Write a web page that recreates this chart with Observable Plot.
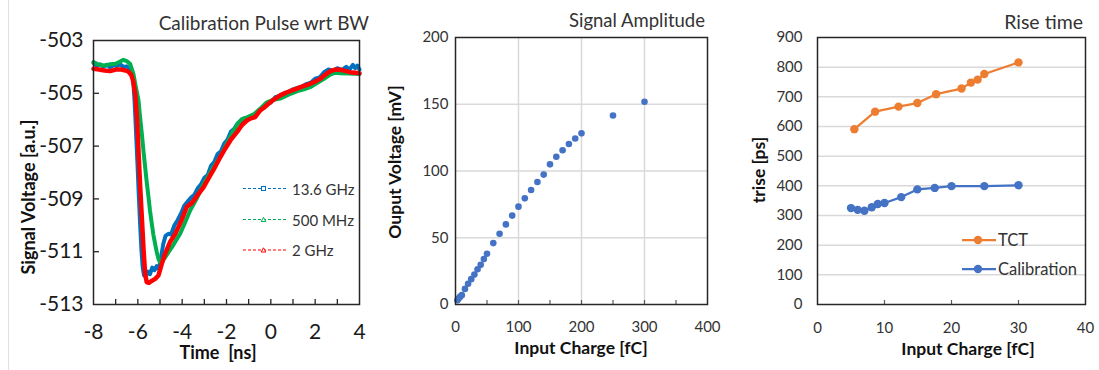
<!DOCTYPE html>
<html><head><meta charset="utf-8">
<script src="https://cdn.jsdelivr.net/npm/d3@7"></script>
<script src="https://cdn.jsdelivr.net/npm/@observablehq/plot@0.6"></script>
<style>
body{margin:0;background:#fff;}
#wrap{position:relative;width:1099px;height:370px;overflow:hidden;font-family:Lato,"Open Sans",sans-serif;}
.abs{position:absolute;white-space:pre;line-height:1;}
.title{color:#333;font-weight:normal;}
.lab{font-weight:bold;color:#111;}
.rot{transform:translate(-50%,-50%) rotate(-90deg);}
.ctr{transform:translate(-50%,-50%);}
.rgt{transform:translate(-100%,-50%);}
.lft{transform:translate(0,-50%);}
</style></head><body><div id="wrap"></div>
<script>
// ---------- Panel 1: Calibration Pulse wrt BW ----------
const t136 = [-8.0,-7.85,-7.7,-7.55,-7.4,-7.25,-7.1,-6.95,-6.8,-6.65,-6.5,-6.38,-6.28,-6.2,-6.14,-6.08,-6.02,-5.96,-5.9,-5.84,-5.78,-5.72,-5.64,-5.55,-5.45,-5.35,-5.25,-5.15,-5.05,-4.95,-4.85,-4.75,-4.62,-4.5,-4.35,-4.2,-4.05,-3.9,-3.75,-3.6,-3.45,-3.3,-3.15,-3.0,-2.85,-2.7,-2.55,-2.4,-2.25,-2.1,-1.95,-1.8,-1.65,-1.5,-1.35,-1.2,-1.05,-0.9,-0.75,-0.6,-0.45,-0.3,-0.15,0.0,0.2,0.4,0.6,0.8,1.0,1.2,1.4,1.6,1.8,2.0,2.2,2.4,2.6,2.8,3.0,3.2,3.4,3.55,3.7,3.8,3.9,4.0];
const v136 = [-503.85,-503.95,-503.9,-504.0,-503.92,-504.02,-503.93,-503.97,-503.9,-504.0,-503.98,-504.1,-504.2,-504.6,-505.4,-506.5,-507.6,-508.8,-509.9,-510.9,-511.6,-511.9,-511.95,-511.75,-511.85,-511.6,-511.7,-511.55,-511.65,-511.2,-510.7,-510.4,-510.32,-510.35,-510.0,-509.8,-509.55,-509.25,-509.1,-508.95,-508.85,-508.6,-508.45,-508.2,-508.1,-507.75,-507.6,-507.3,-507.2,-506.9,-506.75,-506.45,-506.35,-506.15,-506.05,-505.95,-505.95,-505.85,-505.9,-505.7,-505.6,-505.55,-505.4,-505.35,-505.15,-505.1,-505.0,-504.95,-504.85,-504.8,-504.75,-504.65,-504.6,-504.45,-504.4,-504.2,-504.1,-504.15,-504.05,-504.12,-504.0,-504.1,-503.92,-504.05,-503.95,-504.1];
const t500 = [-8.0,-7.75,-7.5,-7.25,-7.0,-6.8,-6.65,-6.5,-6.35,-6.2,-6.08,-5.97,-5.9,-5.82,-5.75,-5.67,-5.6,-5.52,-5.45,-5.37,-5.3,-5.22,-5.15,-5.07,-5.0,-4.9,-4.77,-4.6,-4.46,-4.3,-4.09,-3.85,-3.64,-3.35,-3.04,-2.7,-2.28,-1.95,-1.68,-1.5,-1.31,-1.05,-0.78,-0.5,-0.18,0.1,0.42,0.8,1.2,1.5,1.77,2.1,2.4,2.68,2.9,3.13,3.5,3.8,4.0];
const v500 = [-503.82,-503.92,-503.95,-503.9,-503.88,-503.8,-503.73,-503.78,-503.88,-504.26,-504.8,-505.27,-505.9,-506.53,-507.15,-507.8,-508.35,-508.93,-509.45,-509.94,-510.35,-510.7,-511.0,-511.27,-511.4,-511.35,-511.22,-511.0,-510.83,-510.6,-510.32,-509.85,-509.44,-509.0,-508.45,-507.95,-507.4,-506.85,-506.4,-506.15,-505.98,-505.9,-505.8,-505.6,-505.34,-505.25,-505.2,-505.05,-504.92,-504.85,-504.77,-504.6,-504.45,-504.29,-504.22,-504.24,-504.25,-504.26,-504.27];
const t2g = [-8.0,-7.75,-7.5,-7.25,-7.0,-6.75,-6.5,-6.4,-6.3,-6.22,-6.12,-6.04,-5.97,-5.9,-5.82,-5.74,-5.67,-5.6,-5.5,-5.4,-5.22,-5.07,-4.92,-4.77,-4.54,-4.31,-4.05,-3.79,-3.56,-3.3,-3.04,-2.8,-2.59,-2.3,-2.06,-1.8,-1.53,-1.3,-1.08,-0.9,-0.71,-0.48,-0.25,-0.03,0.2,0.42,0.7,1.02,1.4,1.77,2.0,2.23,2.45,2.68,2.9,3.13,3.35,3.58,3.8,4.0];
const v2g = [-504.07,-504.1,-504.14,-504.16,-504.1,-504.1,-504.15,-504.2,-504.3,-504.5,-505.0,-505.9,-507.17,-508.43,-509.69,-510.95,-511.84,-512.15,-512.18,-512.12,-512.03,-511.9,-511.46,-511.08,-510.62,-510.32,-509.85,-509.3,-509.15,-508.85,-508.56,-508.2,-507.9,-507.45,-507.1,-506.75,-506.47,-506.2,-506.03,-505.95,-505.9,-505.65,-505.5,-505.34,-505.2,-505.08,-504.97,-504.87,-504.75,-504.64,-504.55,-504.45,-504.3,-504.16,-504.1,-504.11,-504.15,-504.2,-504.22,-504.24];
const p1XTicks = [-8,-6,-4,-2,0,2,4];
const p1XMinor = [-7,-6,-5,-4,-3,-2,-1,0,1,2,3];
const p1YTicks = [-503,-505,-507,-509,-511,-513];
const p1YMinor = [-505,-507,-509,-511];
const p1Legend = ["13.6 GHz","500 MHz","2 GHz"];

// ---------- Panel 2: Signal Amplitude ----------
const ampCharge = [3,5,7,10,15,20,25,30,35,40,45,50,60,70,80,90,100,110,120,130,140,150,160,170,180,190,200,250,300];
const ampVoltage = [3.2,4.5,5.7,7.0,11.7,15.5,19,22.4,26.4,29.7,34,38,46,53,60,66.6,73.3,79.5,85.8,91.8,97.3,105,110.7,115.5,120.2,124.4,128.2,141.6,151.9];
const p2XTicks = [0,100,200,300,400];
const p2XMinor = [50,100,150,200,250,300,350];
const p2XGrid = [100,200,300];
const p2YTicks = [0,50,100,150,200];
const p2YGrid = [50,100,150];

// ---------- Panel 3: Rise time ----------
const tctCharge = [5.5,8.6,12.1,14.9,17.7,21.5,22.9,23.9,24.9,30];
const tctRise = [591,650,667,679,709,728,748,758,777,816];
const calCharge = [5,6,7,8.1,9,10,12.5,14.9,17.5,20,24.9,30];
const calRise = [325,319,316,328,339,342,362,388,393,399,399,402];
const p3XTicks = [0,10,20,30,40];
const p3XMinor = [10,20,30];
const p3YTicks = [0,100,200,300,400,500,600,700,800,900];
const p3YGrid = [100,200,300,400,500,600,700,800];
const p3Legend = ["TCT","Calibration"];

const C_BLUE = "#0070C0", C_GREEN = "#00B050", C_RED = "#FF0000";
const C_ORANGE = "#ED7D31", C_CAL = "#4472C4";
const AX = "#262626", GRID = "#d9d9d9";
const fmt = d => String(d);

const wrap = document.getElementById("wrap");
function put(el, left) { el.style.position = "absolute"; el.style.left = left + "px"; el.style.top = "0px"; wrap.appendChild(el); }
function txt(s, cls, x, y, size) {
  const d = document.createElement("div");
  d.className = "abs " + cls; d.textContent = s;
  d.style.left = x + "px"; d.style.top = y + "px"; d.style.fontSize = size + "px";
  wrap.appendChild(d);
}
const zip = (a, b) => a.map((x, i) => ({x, y: b[i]}));

// Panel 1
const f1W = 266, f1H = 264;
const p1 = Plot.plot({
  width: 370, height: 370, marginLeft: 93, marginRight: 11, marginTop: 40, marginBottom: 66,
  style: {fontFamily: "Lato, sans-serif", fontSize: "21px", color: "#1a1a1a", background: "transparent", overflow: "visible"},
  x: {domain: [-8, 4]}, y: {domain: [-513, -503]},
  marks: [
    Plot.line(zip(t136, v136), {x: "x", y: "y", stroke: C_BLUE, strokeWidth: 4, strokeLinejoin: "round"}),
    Plot.line(zip(t500, v500), {x: "x", y: "y", stroke: C_GREEN, strokeWidth: 4, strokeLinejoin: "round"}),
    Plot.line(zip(t2g, v2g), {x: "x", y: "y", stroke: C_RED, strokeWidth: 4.5, strokeLinejoin: "round"}),
    Plot.ruleX(p1XMinor, {stroke: AX, strokeWidth: 1.3, insetTop: f1H - 5}),
    Plot.ruleY(p1YMinor, {stroke: AX, strokeWidth: 1.3, insetRight: f1W - 6}),
    Plot.frame({stroke: AX, strokeWidth: 1.5}),
    Plot.axisX({ticks: p1XTicks, tickSize: 0, tickPadding: 20, tickFormat: fmt, fontSize: 21, label: null}),
    Plot.axisY({ticks: p1YTicks, tickSize: 0, tickPadding: 10, tickFormat: fmt, fontSize: 21, label: null})
  ]
});
put(p1, 0);

// Panel 2
const f2W = 252, f2H = 267;
const p2 = Plot.plot({
  width: 360, height: 370, marginLeft: 85, marginRight: 23, marginTop: 37, marginBottom: 66,
  style: {fontFamily: "Lato, sans-serif", fontSize: "15px", color: "#333", background: "transparent", overflow: "visible"},
  x: {domain: [0, 400]}, y: {domain: [0, 200]},
  marks: [
    Plot.ruleX(p2XGrid, {stroke: GRID, strokeWidth: 1.5}),
    Plot.ruleY(p2YGrid, {stroke: GRID, strokeWidth: 1.5}),
    Plot.ruleX(p2XMinor, {stroke: "#595959", strokeWidth: 1.2, insetTop: f2H - 4}),
    Plot.dot(zip(ampCharge, ampVoltage), {x: "x", y: "y", r: 3.3, fill: C_CAL}),
    Plot.frame({stroke: AX, strokeWidth: 1.5}),
    Plot.axisX({ticks: p2XTicks, tickSize: 0, tickPadding: 17, tickFormat: fmt, fontSize: 15, label: null}),
    Plot.axisY({ticks: p2YTicks, tickSize: 0, tickPadding: 7, tickFormat: fmt, fontSize: 15, label: null})
  ]
});
put(p2, 370);

// Panel 3
const f3W = 268, f3H = 267;
const p3 = Plot.plot({
  width: 369, height: 370, marginLeft: 87, marginRight: 14, marginTop: 37, marginBottom: 66,
  style: {fontFamily: "Lato, sans-serif", fontSize: "15px", color: "#333", background: "transparent", overflow: "visible"},
  x: {domain: [0, 40]}, y: {domain: [0, 900]},
  marks: [
    Plot.ruleY(p3YGrid, {stroke: GRID, strokeWidth: 1.5}),
    Plot.ruleX(p3XMinor, {stroke: "#595959", strokeWidth: 1.2, insetTop: f3H - 4}),
    Plot.line(zip(tctCharge, tctRise), {x: "x", y: "y", stroke: C_ORANGE, strokeWidth: 2.25}),
    Plot.dot(zip(tctCharge, tctRise), {x: "x", y: "y", r: 4.2, fill: C_ORANGE}),
    Plot.line(zip(calCharge, calRise), {x: "x", y: "y", stroke: C_CAL, strokeWidth: 2.25}),
    Plot.dot(zip(calCharge, calRise), {x: "x", y: "y", r: 4.2, fill: C_CAL}),
    Plot.frame({stroke: AX, strokeWidth: 1.5}),
    Plot.axisX({ticks: p3XTicks, tickSize: 0, tickPadding: 18, tickFormat: fmt, fontSize: 15, label: null}),
    Plot.axisY({ticks: p3YTicks, tickSize: 0, tickPadding: 15, tickFormat: fmt, fontSize: 15, label: null})
  ]
});
put(p3, 730);

// Titles and axis labels
txt("Calibration Pulse wrt BW", "title rgt", 369, 22, 19);
txt("Signal Voltage [a.u.]", "lab rot", 28, 197, 18);
txt("Time  [ns]", "lab ctr", 218, 352, 18);
txt("Signal Amplitude", "title rgt", 705, 20, 18.5);
txt("Ouput Voltage [mV]", "lab rot", 395, 162, 17.5);
txt("Input Charge [fC]", "lab ctr", 581, 348, 17.5);
txt("Rise time", "title rgt", 1083, 22, 19.5);
txt("trise [ps]", "lab rot", 759, 170, 17.5);
txt("Input Charge [fC]", "lab ctr", 968, 349, 17.5);

// Legends (plain SVG overlay)
const NS = "http://www.w3.org/2000/svg";
const ov = document.createElementNS(NS, "svg");
ov.setAttribute("width", 1099); ov.setAttribute("height", 370);
ov.style.position = "absolute"; ov.style.left = "0"; ov.style.top = "0";
function el(name, attrs) { const e = document.createElementNS(NS, name); for (const k in attrs) e.setAttribute(k, attrs[k]); ov.appendChild(e); return e; }
// page edge line
el("line", {x1: 8.5, x2: 8.5, y1: 0, y2: 370, stroke: "#e0e0e0", "stroke-width": 1});
const lg1 = [[C_BLUE, 188.5, "sq"], [C_GREEN, 219.5, "tri"], [C_RED, 250, "tri"]];
lg1.forEach(([c, y, m], i) => {
  el("line", {x1: 243, x2: 287, y1: y, y2: y, stroke: c, "stroke-width": 1.2, "stroke-dasharray": "3,2"});
  if (m === "sq") el("rect", {x: 261.5, y: y - 2, width: 4, height: 4, fill: "#fff", stroke: c, "stroke-width": 1});
  else el("path", {d: `M261.2,${y + 2}L263.5,${y - 2.2}L265.8,${y + 2}Z`, fill: "#fff", stroke: c, "stroke-width": 1});
  txt(p1Legend[i], "title lft", 292, y, 15);
});
const lg3 = [[C_ORANGE, 240], [C_CAL, 269]];
lg3.forEach(([c, y], i) => {
  el("line", {x1: 962, x2: 996, y1: y, y2: y, stroke: c, "stroke-width": 2.25});
  el("circle", {cx: 978, cy: y, r: 4.2, fill: c});
  txt(p3Legend[i], "title lft", 998, y, 16.5);
});
wrap.appendChild(ov);
</script>
</body></html>
